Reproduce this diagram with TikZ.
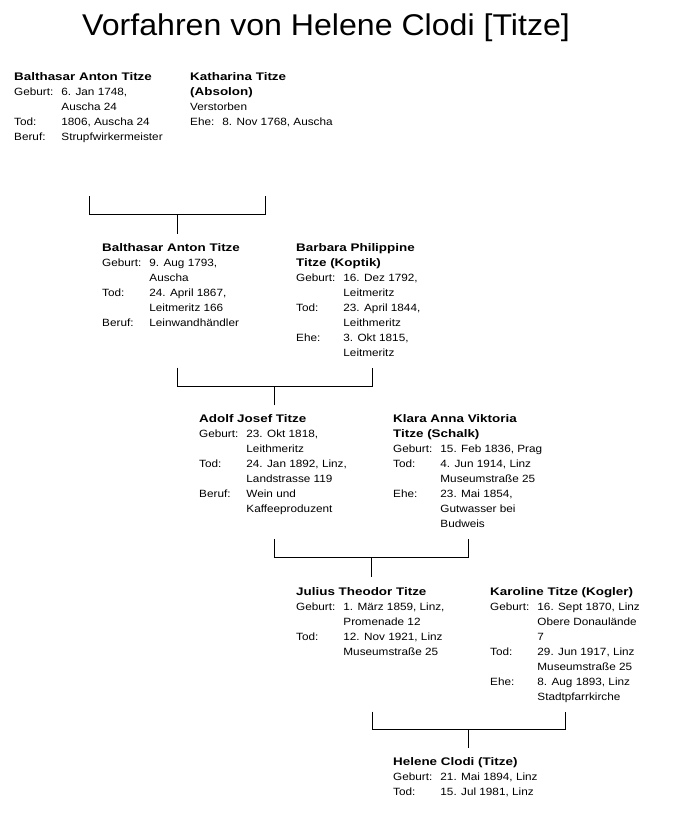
\documentclass[tikz,border=0pt]{standalone}
\usepackage{fontspec}
\setmainfont{Liberation Sans}[FakeStretch=1.12]
\newfontfamily\namefam{Liberation Sans}[FakeStretch=1.22]
\newfontfamily\titlefam{Liberation Sans}[FakeStretch=1.07]
\usetikzlibrary{calc}
\newcommand{\pname}[1]{\multicolumn{2}{@{}l@{}}{\namefam\bfseries\fontsize{11}{15}\selectfont #1}}
\newcommand{\pline}[1]{\multicolumn{2}{@{}l@{}}{#1}}
\newenvironment{ptab}{\begin{tabular}{@{}l@{\hspace{8pt}}l@{}}}{\end{tabular}}
\tikzset{
  person/.style={anchor=north west, inner sep=0pt, font=\fontsize{10.5}{15}\selectfont, align=left, text=black},
  bracket/.style={draw=black, line width=1pt},
  titlestyle/.style={anchor=base west, inner sep=0pt, font=\titlefam\fontsize{30}{36}\selectfont}
}
\begin{document}
\begin{tikzpicture}[x=1pt,y=-1pt]
\useasboundingbox (0,0) rectangle (680,826);
\fill[white] (0,0) rectangle (680,826);
\node[titlestyle] (title) at (82,36) {Vorfahren von Helene Clodi [Titze]};

% generation 1
\node[person] (bat1) at (14,69.5) {\begin{ptab}
\pname{Balthasar Anton Titze}\\
Geburt: & 6. Jan 1748,\\
 & Auscha 24\\
Tod: & 1806, Auscha 24\\
Beruf: & Strupfwirkermeister
\end{ptab}};
\node[person] (kat1) at (190,69.5) {\begin{ptab}
\pname{Katharina Titze}\\
\pname{(Absolon)}\\
\pline{Verstorben}\\
Ehe: & 8. Nov 1768, Auscha
\end{ptab}};

% generation 2
\node[person] (bat2) at (102,240.5) {\begin{ptab}
\pname{Balthasar Anton Titze}\\
Geburt: & 9. Aug 1793,\\
 & Auscha\\
Tod: & 24. April 1867,\\
 & Leitmeritz 166\\
Beruf: & Leinwandhändler
\end{ptab}};
\node[person] (bar2) at (296,240.5) {\begin{ptab}
\pname{Barbara Philippine}\\
\pname{Titze (Koptik)}\\
Geburt: & 16. Dez 1792,\\
 & Leitmeritz\\
Tod: & 23. April 1844,\\
 & Leithmeritz\\
Ehe: & 3. Okt 1815,\\
 & Leitmeritz
\end{ptab}};

% generation 3
\node[person] (ado3) at (199,412) {\begin{ptab}
\pname{Adolf Josef Titze}\\
Geburt: & 23. Okt 1818,\\
 & Leithmeritz\\
Tod: & 24. Jan 1892, Linz,\\
 & Landstrasse 119\\
Beruf: & Wein und\\
 & Kaffeeproduzent
\end{ptab}};
\node[person] (kla3) at (393,412) {\begin{ptab}
\pname{Klara Anna Viktoria}\\
\pname{Titze (Schalk)}\\
Geburt: & 15. Feb 1836, Prag\\
Tod: & 4. Jun 1914, Linz\\
 & Museumstraße 25\\
Ehe: & 23. Mai 1854,\\
 & Gutwasser bei\\
 & Budweis
\end{ptab}};

% generation 4
\node[person] (jul4) at (296,584.5) {\begin{ptab}
\pname{Julius Theodor Titze}\\
Geburt: & 1. März 1859, Linz,\\
 & Promenade 12\\
Tod: & 12. Nov 1921, Linz\\
 & Museumstraße 25
\end{ptab}};
\node[person] (kar4) at (490,584.5) {\begin{ptab}
\pname{Karoline Titze (Kogler)}\\
Geburt: & 16. Sept 1870, Linz\\
 & Obere Donaulände\\
 & 7\\
Tod: & 29. Jun 1917, Linz\\
 & Museumstraße 25\\
Ehe: & 8. Aug 1893, Linz\\
 & Stadtpfarrkirche
\end{ptab}};

% generation 5
\node[person] (hel5) at (393,754.5) {\begin{ptab}
\pname{Helene Clodi (Titze)}\\
Geburt: & 21. Mai 1894, Linz\\
Tod: & 15. Jul 1981, Linz
\end{ptab}};

% brackets
\draw[bracket] ($(bat1.north west)+(75,127)$) -- ++(0,18.5) coordinate (h1) -| ($(kat1.north west)+(75,127)$);
\draw[bracket] ($(bat2.north west)+(75,-7)$) coordinate (s1) -- (s1 |- h1);

\draw[bracket] ($(bat2.north west)+(75,127)$) -- ++(0,18.5) coordinate (h2) -| ($(bar2.north west)+(76,127)$);
\draw[bracket] ($(ado3.north west)+(75.5,-7)$) coordinate (s2) -- (s2 |- h2);

\draw[bracket] ($(ado3.north west)+(75,127)$) -- ++(0,18.5) coordinate (h3) -| ($(kla3.north west)+(75,127)$);
\draw[bracket] ($(jul4.north west)+(75,-8)$) coordinate (s3) -- (s3 |- h3);

\draw[bracket] ($(jul4.north west)+(76,127)$) -- ++(0,17.5) coordinate (h4) -| ($(kar4.north west)+(75,127)$);
\draw[bracket] ($(hel5.north west)+(75,-7)$) coordinate (s4) -- (s4 |- h4);
\end{tikzpicture}
\end{document}
